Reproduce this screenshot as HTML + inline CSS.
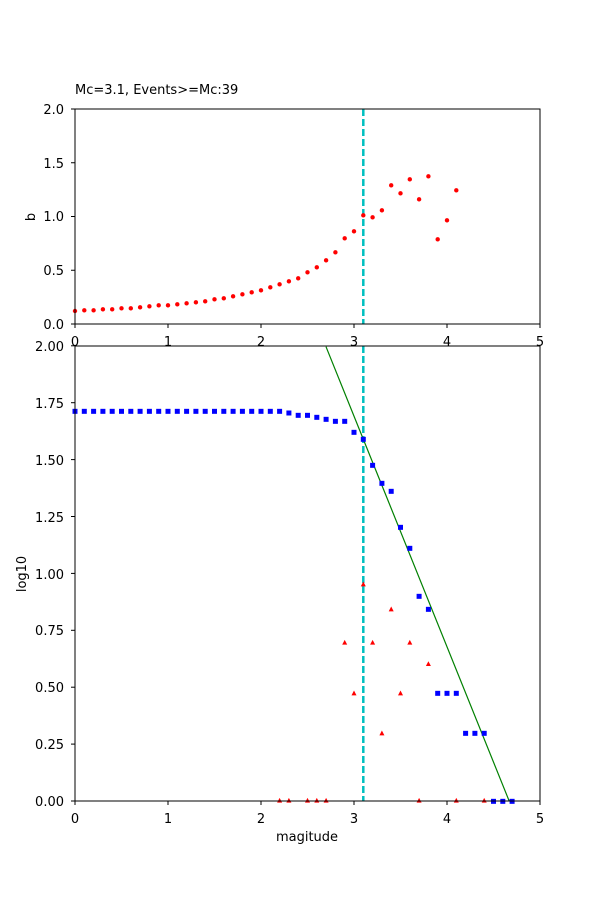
<!DOCTYPE html>
<html><head><meta charset="utf-8"><style>
body{margin:0;background:#fff}
svg{display:block;font-family:"DejaVu Sans","Liberation Sans",sans-serif;font-size:13px}
</style></head><body>
<svg id="s" width="600" height="900" xmlns="http://www.w3.org/2000/svg">
<rect width="600" height="900" fill="#fff"/>
<text x="75" y="94">Mc=3.1, Events&gt;=Mc:39</text>
<g id="gtop"></g>
<g id="gbot"></g>
<g text-anchor="end">
<text x="64" y="329">0.0</text><text x="64" y="275">0.5</text><text x="64" y="221">1.0</text><text x="64" y="168">1.5</text><text x="64" y="114">2.0</text>
<text x="64" y="806">0.00</text><text x="64" y="749">0.25</text><text x="64" y="692">0.50</text><text x="64" y="635">0.75</text><text x="64" y="579">1.00</text><text x="64" y="522">1.25</text><text x="64" y="465">1.50</text><text x="64" y="408">1.75</text><text x="64" y="351">2.00</text>
</g>
<g text-anchor="middle">
<text x="75" y="346">0</text><text x="168" y="346">1</text><text x="261" y="346">2</text><text x="354" y="346">3</text><text x="447" y="346">4</text><text x="540" y="346">5</text>
<text x="75" y="823">0</text><text x="168" y="823">1</text><text x="261" y="823">2</text><text x="354" y="823">3</text><text x="447" y="823">4</text><text x="540" y="823">5</text>
<text x="307" y="841">magitude</text>
</g>
<text transform="translate(35,217) rotate(-90)" text-anchor="middle">b</text>
<text transform="translate(26,574) rotate(-90)" text-anchor="middle">log10</text>
</svg>
<script>
(function(){
var NS="http://www.w3.org/2000/svg";
function el(p,t,a){var e=document.createElementNS(NS,t);for(var k in a)e.setAttribute(k,a[k]);p.appendChild(e);return e;}
var gt=document.getElementById("gtop"),gb=document.getElementById("gbot");
function X(m){return 75+93*m;}
var tz=[633,631,631,628,628,625,625,622,619,616,616,613,610,607,604,598,595,589,583,577,571,562,553,544,535,517,502,481,457,415,394,346,352,331,256,280,238,298,229,418,361,271];
el(gt,"line",{x1:363.3,y1:109,x2:363.3,y2:324,stroke:"#00bfbf","stroke-width":2.5,"stroke-dasharray":"7,3"});
tz.forEach(function(z,i){el(gt,"circle",{cx:X(i/10),cy:100+z/3,r:2.2,fill:"#f00"});});
el(gt,"rect",{x:75,y:109,width:465,height:215,fill:"none",stroke:"#000","stroke-width":1});
[0,1,2,3,4,5].forEach(function(m){el(gt,"line",{x1:X(m),y1:324,x2:X(m),y2:328,stroke:"#000"});el(gb,"line",{x1:X(m),y1:801,x2:X(m),y2:805,stroke:"#000"});});
[0,0.5,1,1.5,2].forEach(function(v){var y=324-107.5*v;el(gt,"line",{x1:71,y1:y,x2:75,y2:y,stroke:"#000"});});
for(var i=0;i<=8;i++){var y=801-56.9*i;el(gb,"line",{x1:71,y1:y,x2:75,y2:y,stroke:"#000"});}
el(gb,"line",{x1:363.3,y1:346,x2:363.3,y2:801,stroke:"#00bfbf","stroke-width":2.5,"stroke-dasharray":"7,3"});
el(gb,"line",{x1:326,y1:346.7,x2:509.3,y2:801.3,stroke:"#008000","stroke-width":1.2});
var bz={"2.3":219,"2.4":226,"2.5":226,"2.6":232,"2.7":238,"2.8":244,"2.9":244,"3.0":277,"3.1":298,"3.2":376,"3.3":430,"3.4":454,"3.5":562,"3.6":625,"3.7":769,"3.8":808,"3.9":1060,"4.0":1060,"4.1":1060,"4.2":1180,"4.3":1180,"4.4":1180,"4.5":1384,"4.6":1384,"4.7":1384};
for(var k=0;k<=47;k++){var m=k/10,key=m.toFixed(1);var z=(bz[key]!==undefined)?bz[key]:214;var y=340+z/3;el(gb,"rect",{x:X(m)-2.5,y:y-2.5,width:5,height:5,fill:"#00f"});}
var tri=[[2.2,1382],[2.3,1382],[2.5,1382],[2.6,1382],[2.7,1382],[2.9,908],[3.0,1060],[3.1,733],[3.2,908],[3.3,1180],[3.4,808],[3.5,1060],[3.6,908],[3.7,1382],[3.8,972],[4.1,1382],[4.4,1382]];
tri.forEach(function(t){var x=X(t[0]),y=340+t[1]/3;el(gb,"polygon",{points:(x-2.5)+","+(y+2)+" "+(x+2.5)+","+(y+2)+" "+x+","+(y-2.8),fill:"#f00"});});
el(gb,"rect",{x:75,y:346,width:465,height:455,fill:"none",stroke:"#000","stroke-width":1});
})();
</script>
</body></html>
